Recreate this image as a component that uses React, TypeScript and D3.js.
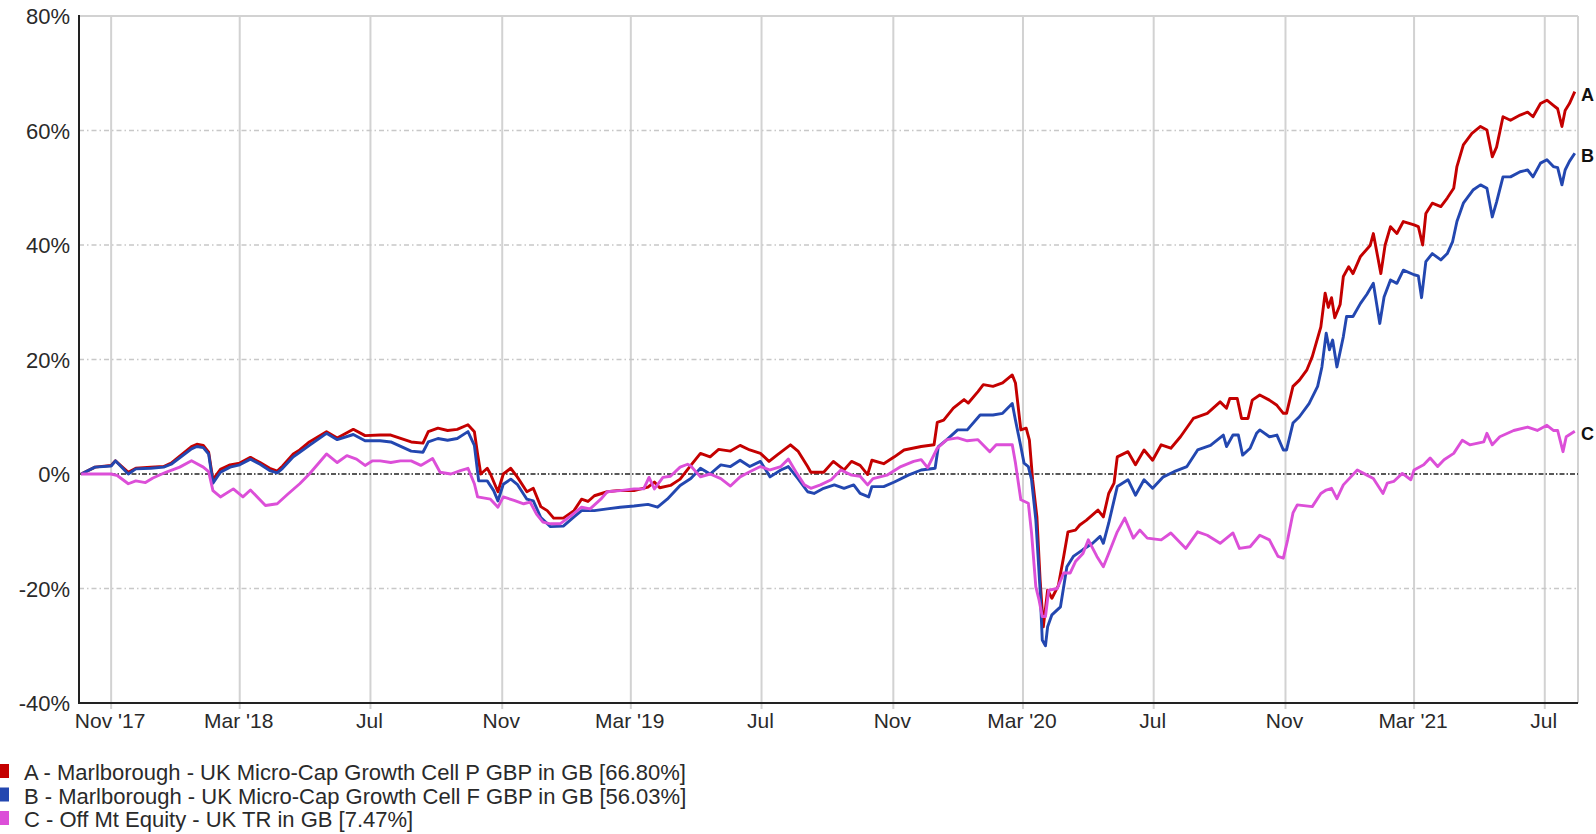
import React, { useEffect, useRef } from 'react';
import * as d3 from 'd3';

// Cumulative performance, %
const seriesA: [string, number][] = [
  ['2017-10-04', 0], ['2017-10-17', 1.2], ['2017-11-01', 1.5], ['2017-11-05', 2.3], ['2017-11-17', 0.3],
  ['2017-11-24', 1.0], ['2017-12-08', 1.2], ['2017-12-20', 1.3], ['2017-12-27', 1.9], ['2018-01-15', 4.8],
  ['2018-01-20', 5.2], ['2018-01-26', 5.0], ['2018-01-31', 3.8], ['2018-02-04', -1.0], ['2018-02-11', 0.8],
  ['2018-02-20', 1.6], ['2018-03-01', 1.9], ['2018-03-11', 2.9], ['2018-03-20', 2.0], ['2018-03-29', 1.0],
  ['2018-04-05', 0.5], ['2018-04-10', 1.4], ['2018-04-20', 3.5], ['2018-04-26', 4.2], ['2018-05-05', 5.6],
  ['2018-05-21', 7.4], ['2018-05-31', 6.3], ['2018-06-15', 7.8], ['2018-06-26', 6.7], ['2018-07-10', 6.8],
  ['2018-07-20', 6.8], ['2018-08-08', 5.6], ['2018-08-19', 5.4], ['2018-08-24', 7.4], ['2018-09-02', 8.0],
  ['2018-09-11', 7.6], ['2018-09-20', 7.8], ['2018-09-30', 8.6], ['2018-10-06', 7.4], ['2018-10-09', 3.5],
  ['2018-10-12', 0.0], ['2018-10-18', 1.0], ['2018-10-21', 0.0], ['2018-10-28', -3.1], ['2018-11-02', 0.0],
  ['2018-11-09', 1.0], ['2018-11-15', -0.5], ['2018-11-24', -3.1], ['2018-11-30', -2.5], ['2018-12-07', -5.7],
  ['2018-12-13', -6.4], ['2018-12-19', -7.7], ['2018-12-28', -7.7], ['2019-01-07', -6.4], ['2019-01-14', -4.4],
  ['2019-01-20', -4.8], ['2019-01-26', -3.8], ['2019-02-07', -3.1], ['2019-02-16', -2.9], ['2019-03-04', -2.9],
  ['2019-03-17', -2.3], ['2019-03-23', -1.4], ['2019-03-28', -2.4], ['2019-04-07', -2.0], ['2019-04-16', -0.9],
  ['2019-04-26', 1.5], ['2019-05-05', 3.6], ['2019-05-14', 3.0], ['2019-05-22', 4.3], ['2019-06-02', 4.0],
  ['2019-06-11', 5.0], ['2019-06-20', 4.2], ['2019-06-30', 3.6], ['2019-07-08', 2.2], ['2019-07-16', 3.4],
  ['2019-07-28', 5.1], ['2019-08-04', 4.0], ['2019-08-13', 1.3], ['2019-08-16', 0.3], ['2019-08-28', 0.3],
  ['2019-09-06', 2.2], ['2019-09-16', 0.7], ['2019-09-23', 2.2], ['2019-10-01', 1.5], ['2019-10-08', -0.1],
  ['2019-10-12', 2.4], ['2019-10-23', 1.8], ['2019-11-02', 3.0], ['2019-11-11', 4.2], ['2019-11-27', 4.8],
  ['2019-12-09', 5.1], ['2019-12-12', 9.0], ['2019-12-18', 9.4], ['2019-12-27', 11.5], ['2020-01-06', 13.0],
  ['2020-01-10', 12.4], ['2020-01-19', 14.4], ['2020-01-24', 15.6], ['2020-02-02', 15.3], ['2020-02-11', 15.9],
  ['2020-02-20', 17.3], ['2020-02-23', 15.9], ['2020-02-28', 7.7], ['2020-03-04', 8.0], ['2020-03-07', 5.9],
  ['2020-03-10', -1.0], ['2020-03-14', -7.5], ['2020-03-17', -18.5], ['2020-03-20', -26.7], ['2020-03-24', -20.3],
  ['2020-03-28', -21.7], ['2020-04-03', -19.5], ['2020-04-08', -14.4], ['2020-04-12', -10.1], ['2020-04-19', -9.8],
  ['2020-04-23', -8.9], ['2020-04-29', -8.1], ['2020-05-10', -6.3], ['2020-05-15', -7.5], ['2020-05-20', -3.4],
  ['2020-05-25', -1.6], ['2020-05-28', 3.0], ['2020-06-07', 3.9], ['2020-06-14', 1.6], ['2020-06-22', 4.2],
  ['2020-06-30', 2.4], ['2020-07-08', 5.1], ['2020-07-17', 4.5], ['2020-07-26', 6.5], ['2020-08-07', 9.7],
  ['2020-08-20', 10.6], ['2020-09-01', 12.6], ['2020-09-07', 11.5], ['2020-09-10', 13.2], ['2020-09-17', 13.2],
  ['2020-09-21', 9.7], ['2020-09-27', 9.7], ['2020-10-01', 12.9], ['2020-10-08', 13.8], ['2020-10-17', 12.9],
  ['2020-10-24', 12.0], ['2020-10-30', 10.6], ['2020-11-02', 10.6], ['2020-11-08', 15.3], ['2020-11-14', 16.4],
  ['2020-11-21', 18.2], ['2020-11-26', 20.5], ['2020-12-04', 25.7], ['2020-12-08', 31.6], ['2020-12-11', 29.1],
  ['2020-12-14', 30.8], ['2020-12-17', 27.3], ['2020-12-22', 29.6], ['2020-12-25', 34.5], ['2020-12-30', 36.2],
  ['2021-01-03', 35.0], ['2021-01-10', 38.0], ['2021-01-19', 39.9], ['2021-01-22', 42.0], ['2021-01-29', 35.0],
  ['2021-02-02', 40.0], ['2021-02-07', 43.2], ['2021-02-13', 42.0], ['2021-02-19', 44.1], ['2021-03-01', 43.5],
  ['2021-03-05', 43.2], ['2021-03-09', 40.0], ['2021-03-12', 45.5], ['2021-03-18', 47.3], ['2021-03-26', 46.7],
  ['2021-04-01', 48.2], ['2021-04-07', 49.9], ['2021-04-10', 53.7], ['2021-04-16', 57.5], ['2021-04-24', 59.5],
  ['2021-05-02', 60.7], ['2021-05-08', 60.1], ['2021-05-13', 55.4], ['2021-05-17', 57.1], ['2021-05-23', 62.4],
  ['2021-05-30', 61.8], ['2021-06-08', 62.7], ['2021-06-15', 63.2], ['2021-06-20', 62.4], ['2021-06-27', 64.7],
  ['2021-07-03', 65.3], ['2021-07-09', 64.4], ['2021-07-13', 63.8], ['2021-07-17', 60.7], ['2021-07-20', 63.5],
  ['2021-07-24', 64.7], ['2021-07-29', 66.8],
];

const seriesB: [string, number][] = [
  ['2017-10-04', 0], ['2017-10-17', 1.2], ['2017-11-01', 1.4], ['2017-11-05', 2.3], ['2017-11-17', 0.0],
  ['2017-11-24', 0.9], ['2017-12-08', 1.0], ['2017-12-20', 1.2], ['2017-12-27', 1.7], ['2018-01-15', 4.4],
  ['2018-01-20', 4.8], ['2018-01-26', 4.6], ['2018-01-31', 3.5], ['2018-02-04', -1.6], ['2018-02-11', 0.3],
  ['2018-02-20', 1.2], ['2018-03-01', 1.6], ['2018-03-11', 2.6], ['2018-03-20', 1.7], ['2018-03-29', 0.6],
  ['2018-04-05', 0.2], ['2018-04-10', 1.0], ['2018-04-20', 3.0], ['2018-04-26', 3.8], ['2018-05-05', 5.0],
  ['2018-05-21', 7.1], ['2018-05-31', 6.0], ['2018-06-15', 6.9], ['2018-06-26', 5.8], ['2018-07-10', 5.8],
  ['2018-07-20', 5.6], ['2018-08-08', 4.0], ['2018-08-19', 3.8], ['2018-08-24', 5.6], ['2018-09-02', 6.2],
  ['2018-09-11', 5.9], ['2018-09-20', 6.2], ['2018-09-30', 7.4], ['2018-10-06', 5.0], ['2018-10-10', -1.2],
  ['2018-10-18', -1.2], ['2018-10-24', -2.9], ['2018-10-28', -4.7], ['2018-11-02', -1.8], ['2018-11-09', -0.9],
  ['2018-11-15', -1.8], ['2018-11-24', -4.4], ['2018-11-30', -4.7], ['2018-12-07', -7.6], ['2018-12-16', -9.2],
  ['2018-12-28', -9.1], ['2019-01-07', -7.5], ['2019-01-14', -6.4], ['2019-01-26', -6.4], ['2019-02-07', -6.1],
  ['2019-02-19', -5.8], ['2019-03-04', -5.6], ['2019-03-17', -5.3], ['2019-03-26', -5.8], ['2019-04-04', -4.4],
  ['2019-04-16', -2.0], ['2019-04-26', -0.8], ['2019-05-05', 1.0], ['2019-05-14', 0.0], ['2019-05-24', 1.6],
  ['2019-06-02', 1.3], ['2019-06-11', 2.4], ['2019-06-20', 1.3], ['2019-06-30', 2.2], ['2019-07-09', -0.5],
  ['2019-07-19', 0.7], ['2019-07-26', 1.3], ['2019-08-04', -0.8], ['2019-08-13', -3.1], ['2019-08-19', -3.4],
  ['2019-08-28', -2.5], ['2019-09-07', -1.9], ['2019-09-16', -2.5], ['2019-09-25', -1.9], ['2019-10-01', -3.4],
  ['2019-10-09', -4.0], ['2019-10-12', -2.2], ['2019-10-23', -2.2], ['2019-11-02', -1.4], ['2019-11-15', -0.2],
  ['2019-11-27', 0.7], ['2019-12-10', 1.0], ['2019-12-13', 4.8], ['2019-12-21', 6.0], ['2019-12-31', 7.7],
  ['2020-01-09', 7.7], ['2020-01-21', 10.3], ['2020-02-02', 10.3], ['2020-02-11', 10.6], ['2020-02-20', 12.3],
  ['2020-02-23', 9.4], ['2020-02-28', 4.8], ['2020-03-02', 1.9], ['2020-03-06', 1.3], ['2020-03-09', -1.0],
  ['2020-03-13', -8.0], ['2020-03-17', -20.3], ['2020-03-19', -29.0], ['2020-03-22', -30.0], ['2020-03-24', -26.7],
  ['2020-03-28', -24.6], ['2020-04-05', -23.2], ['2020-04-11', -16.2], ['2020-04-17', -14.4], ['2020-04-26', -13.2],
  ['2020-05-05', -12.1], ['2020-05-12', -10.9], ['2020-05-15', -12.1], ['2020-05-20', -8.6], ['2020-05-28', -2.2],
  ['2020-06-07', -1.0], ['2020-06-14', -3.7], ['2020-06-22', -1.0], ['2020-06-30', -2.5], ['2020-07-10', -0.5],
  ['2020-07-20', 0.4], ['2020-08-01', 1.3], ['2020-08-11', 4.2], ['2020-08-23', 5.0], ['2020-09-04', 6.8],
  ['2020-09-07', 4.8], ['2020-09-13', 6.8], ['2020-09-18', 6.8], ['2020-09-22', 3.3], ['2020-09-29', 4.5],
  ['2020-10-05', 7.1], ['2020-10-08', 7.7], ['2020-10-17', 6.5], ['2020-10-24', 6.8], ['2020-10-30', 4.2],
  ['2020-11-02', 4.2], ['2020-11-08', 8.9], ['2020-11-14', 10.0], ['2020-11-23', 12.3], ['2020-12-01', 15.3],
  ['2020-12-05', 18.7], ['2020-12-09', 24.6], ['2020-12-12', 21.7], ['2020-12-15', 23.4], ['2020-12-19', 18.7],
  ['2020-12-25', 24.0], ['2020-12-28', 27.5], ['2021-01-03', 27.5], ['2021-01-10', 29.8], ['2021-01-16', 31.4],
  ['2021-01-22', 33.3], ['2021-01-28', 26.3], ['2021-02-01', 30.9], ['2021-02-07', 33.9], ['2021-02-13', 33.3],
  ['2021-02-19', 35.6], ['2021-03-01', 34.8], ['2021-03-05', 34.6], ['2021-03-08', 30.8], ['2021-03-12', 37.1],
  ['2021-03-18', 38.5], ['2021-03-26', 37.4], ['2021-04-01', 38.5], ['2021-04-06', 40.6], ['2021-04-10', 44.1],
  ['2021-04-16', 47.3], ['2021-04-25', 49.6], ['2021-05-02', 50.5], ['2021-05-08', 49.9], ['2021-05-13', 44.9],
  ['2021-05-17', 47.5], ['2021-05-23', 51.9], ['2021-05-30', 51.9], ['2021-06-08', 52.8], ['2021-06-15', 53.1],
  ['2021-06-20', 51.9], ['2021-06-27', 54.3], ['2021-07-03', 54.9], ['2021-07-09', 53.7], ['2021-07-13', 53.5],
  ['2021-07-17', 50.5], ['2021-07-20', 53.1], ['2021-07-24', 54.6], ['2021-07-29', 56.03],
];

const seriesC: [string, number][] = [
  ['2017-10-04', 0], ['2017-10-17', 0.0], ['2017-11-01', 0.0], ['2017-11-07', -0.3], ['2017-11-17', -1.7],
  ['2017-11-24', -1.2], ['2017-12-03', -1.5], ['2017-12-10', -0.7], ['2017-12-22', 0.3], ['2018-01-04', 1.2],
  ['2018-01-15', 2.3], ['2018-01-26', 1.2], ['2018-01-31', 0.4], ['2018-02-04', -2.9], ['2018-02-11', -4.0],
  ['2018-02-23', -2.6], ['2018-03-04', -4.0], ['2018-03-11', -2.8], ['2018-03-25', -5.5], ['2018-04-05', -5.2],
  ['2018-04-15', -3.5], ['2018-04-26', -1.7], ['2018-05-05', 0.0], ['2018-05-21', 3.5], ['2018-05-31', 2.0],
  ['2018-06-09', 3.2], ['2018-06-18', 2.6], ['2018-06-26', 1.5], ['2018-07-03', 2.3], ['2018-07-10', 2.3],
  ['2018-07-20', 2.0], ['2018-07-29', 2.3], ['2018-08-08', 2.3], ['2018-08-17', 1.5], ['2018-08-28', 2.7],
  ['2018-09-04', 0.3], ['2018-09-14', 0.0], ['2018-09-23', 0.6], ['2018-09-30', 1.0], ['2018-10-06', -1.7],
  ['2018-10-09', -4.0], ['2018-10-21', -4.4], ['2018-10-28', -5.8], ['2018-11-02', -4.0], ['2018-11-12', -4.6],
  ['2018-11-21', -5.2], ['2018-11-27', -4.9], ['2018-12-03', -7.0], ['2018-12-09', -8.4], ['2018-12-16', -8.7],
  ['2018-12-25', -8.7], ['2019-01-04', -7.3], ['2019-01-14', -5.8], ['2019-01-22', -6.1], ['2019-02-01', -4.4],
  ['2019-02-07', -3.1], ['2019-02-19', -2.9], ['2019-03-04', -2.6], ['2019-03-13', -2.6], ['2019-03-18', -0.6],
  ['2019-03-23', -2.6], ['2019-03-31', -0.6], ['2019-04-07', -0.4], ['2019-04-16', 1.2], ['2019-04-23', 1.7],
  ['2019-04-26', 1.4], ['2019-05-05', -0.5], ['2019-05-14', 0.0], ['2019-05-24', -0.8], ['2019-06-02', -2.1],
  ['2019-06-11', -0.5], ['2019-06-20', 0.4], ['2019-06-30', 1.3], ['2019-07-09', 0.7], ['2019-07-19', 1.3],
  ['2019-07-26', 2.6], ['2019-08-02', 0.4], ['2019-08-10', -1.9], ['2019-08-16', -2.5], ['2019-08-25', -1.9],
  ['2019-09-04', -1.0], ['2019-09-13', 0.7], ['2019-09-23', -0.2], ['2019-10-01', -0.4], ['2019-10-08', -1.9],
  ['2019-10-13', -0.8], ['2019-10-26', -0.2], ['2019-11-08', 1.3], ['2019-11-20', 2.2], ['2019-11-27', 2.5],
  ['2019-12-03', 1.1], ['2019-12-12', 4.5], ['2019-12-21', 6.0], ['2019-12-31', 6.3], ['2020-01-09', 5.8],
  ['2020-01-19', 6.0], ['2020-01-30', 3.9], ['2020-02-05', 5.1], ['2020-02-20', 5.1], ['2020-02-23', 1.9],
  ['2020-02-28', -4.5], ['2020-03-06', -5.1], ['2020-03-09', -10.3], ['2020-03-13', -19.7], ['2020-03-16', -22.0],
  ['2020-03-19', -24.9], ['2020-03-22', -24.9], ['2020-03-25', -20.3], ['2020-04-02', -20.0], ['2020-04-08', -17.3],
  ['2020-04-14', -17.3], ['2020-04-19', -15.3], ['2020-04-26', -13.9], ['2020-05-01', -11.5], ['2020-05-09', -14.4],
  ['2020-05-15', -16.2], ['2020-05-20', -13.9], ['2020-05-28', -10.1], ['2020-06-04', -7.7], ['2020-06-12', -11.2],
  ['2020-06-18', -9.8], ['2020-06-25', -11.2], ['2020-07-08', -11.5], ['2020-07-17', -10.3], ['2020-07-31', -13.0],
  ['2020-08-11', -10.1], ['2020-08-20', -10.7], ['2020-09-01', -12.1], ['2020-09-13', -10.3], ['2020-09-19', -13.0],
  ['2020-09-29', -12.7], ['2020-10-08', -10.7], ['2020-10-17', -11.5], ['2020-10-25', -14.4], ['2020-10-30', -14.7],
  ['2020-11-03', -11.5], ['2020-11-08', -6.8], ['2020-11-12', -5.4], ['2020-11-26', -5.7], ['2020-12-04', -3.4],
  ['2020-12-09', -2.8], ['2020-12-14', -2.5], ['2020-12-19', -4.3], ['2020-12-25', -1.9], ['2021-01-07', 0.7],
  ['2021-01-16', -0.2], ['2021-01-22', -0.8], ['2021-01-31', -3.4], ['2021-02-04', -1.6], ['2021-02-10', -1.3],
  ['2021-02-18', 0.1], ['2021-02-26', -1.0], ['2021-03-01', 0.7], ['2021-03-10', 1.6], ['2021-03-16', 2.8],
  ['2021-03-23', 1.3], ['2021-03-29', 2.5], ['2021-04-07', 3.6], ['2021-04-15', 5.9], ['2021-04-22', 5.1],
  ['2021-05-05', 5.6], ['2021-05-08', 7.1], ['2021-05-13', 5.1], ['2021-05-20', 6.5], ['2021-06-02', 7.6],
  ['2021-06-15', 8.2], ['2021-06-24', 7.6], ['2021-07-03', 8.5], ['2021-07-09', 7.6], ['2021-07-13', 7.6],
  ['2021-07-18', 3.9], ['2021-07-21', 6.5], ['2021-07-29', 7.47],
];

const seriesKeys = ['A', 'B', 'C'];
const seriesNames = [
  'A - Marlborough - UK Micro-Cap Growth Cell P GBP in GB [66.80%]',
  'B - Marlborough - UK Micro-Cap Growth Cell F GBP in GB [56.03%]',
  'C - Off Mt Equity - UK TR in GB [7.47%]',
];
const seriesColors = ['#c40000', '#2347b0', '#dc4fd8'];

const xTicks: [string, string][] = [
  ['2017-11-01', "Nov '17"], ['2018-03-01', "Mar '18"], ['2018-07-01', 'Jul'], ['2018-11-01', 'Nov'],
  ['2019-03-01', "Mar '19"], ['2019-07-01', 'Jul'], ['2019-11-01', 'Nov'], ['2020-03-01', "Mar '20"],
  ['2020-07-01', 'Jul'], ['2020-11-01', 'Nov'], ['2021-03-01', "Mar '21"], ['2021-07-01', 'Jul'],
];
const yTicks = [-40, -20, 0, 20, 40, 60, 80];

const WIDTH = 1596;
const HEIGHT = 834;
const FONT = '"Liberation Sans", Arial, sans-serif';

export default function App() {
  const svgRef = useRef<SVGSVGElement>(null);

  useEffect(() => {
    if (!svgRef.current) return;
    const svg = d3.select(svgRef.current);
    svg.selectAll('*').remove();

    const parse = d3.timeParse('%Y-%m-%d');
    const left = 79;
    const right = 1578;
    const top = 16;
    const bottom = 703;

    const x = d3
      .scaleTime()
      .domain([parse('2017-10-02') as Date, parse('2021-08-01') as Date])
      .range([left, right]);
    const y = d3.scaleLinear().domain([-40, 80]).range([bottom, top]);

    // Vertical grid
    svg
      .append('g')
      .selectAll('line')
      .data(xTicks)
      .enter()
      .append('line')
      .attr('x1', (d) => x(parse(d[0]) as Date))
      .attr('x2', (d) => x(parse(d[0]) as Date))
      .attr('y1', top)
      .attr('y2', bottom + 6)
      .attr('stroke', '#d2d2d2')
      .attr('stroke-width', 2);

    // Horizontal grid
    svg
      .append('g')
      .selectAll('line')
      .data(yTicks.filter((v) => v !== 0 && v !== -40 && v !== 80))
      .enter()
      .append('line')
      .attr('x1', left)
      .attr('x2', right)
      .attr('y1', (d) => y(d))
      .attr('y2', (d) => y(d))
      .attr('stroke', '#c8c8c8')
      .attr('stroke-width', 1.5)
      .attr('stroke-dasharray', '5,3,1.5,3');

    // Frame
    svg.append('line').attr('x1', left).attr('x2', right).attr('y1', top).attr('y2', top)
      .attr('stroke', '#d2d2d2').attr('stroke-width', 2);
    svg.append('line').attr('x1', right).attr('x2', right).attr('y1', top).attr('y2', bottom)
      .attr('stroke', '#d2d2d2').attr('stroke-width', 2);

    // Zero line
    svg.append('line')
      .attr('x1', left).attr('x2', right).attr('y1', y(0)).attr('y2', y(0))
      .attr('stroke', '#222').attr('stroke-width', 1.5).attr('stroke-dasharray', '5,2,1.5,2');

    // Lines
    const line = d3
      .line<[string, number]>()
      .x((d) => x(parse(d[0]) as Date))
      .y((d) => y(d[1]));

    const allSeries = [seriesA, seriesB, seriesC];
    allSeries.forEach((s, i) => {
      svg
        .append('path')
        .datum(s)
        .attr('d', line)
        .attr('fill', 'none')
        .attr('stroke', seriesColors[i])
        .attr('stroke-width', 2.9)
        .attr('stroke-linejoin', 'round');
    });

    // Axes
    svg.append('line').attr('x1', left).attr('x2', left).attr('y1', top - 1).attr('y2', bottom + 1)
      .attr('stroke', '#222').attr('stroke-width', 2);
    svg.append('line').attr('x1', left).attr('x2', right).attr('y1', bottom).attr('y2', bottom)
      .attr('stroke', '#222').attr('stroke-width', 2);

    // Y labels
    svg
      .append('g')
      .selectAll('text')
      .data(yTicks)
      .enter()
      .append('text')
      .attr('x', 70)
      .attr('y', (d) => y(d) + 8)
      .attr('text-anchor', 'end')
      .attr('font-family', FONT)
      .attr('font-size', 22)
      .attr('fill', '#2a2a2a')
      .text((d) => `${d}%`);

    // X labels
    svg
      .append('g')
      .selectAll('text')
      .data(xTicks)
      .enter()
      .append('text')
      .attr('x', (d) => x(parse(d[0]) as Date) - 1)
      .attr('y', 728)
      .attr('text-anchor', 'middle')
      .attr('font-family', FONT)
      .attr('font-size', 21)
      .attr('fill', '#2a2a2a')
      .text((d) => d[1]);

    // End labels
    allSeries.forEach((s, i) => {
      const last = s[s.length - 1];
      svg
        .append('text')
        .attr('x', 1581)
        .attr('y', y(last[1]) + 9)
        .attr('font-family', FONT)
        .attr('font-size', 18)
        .attr('font-weight', 'bold')
        .attr('fill', '#111')
        .text(seriesKeys[i]);
    });

    // Legend
    const legend = svg.append('g');
    seriesNames.forEach((name, i) => {
      const baseline = 780 + i * 23.5;
      legend
        .append('rect')
        .attr('x', -5)
        .attr('y', baseline - 16)
        .attr('width', 14)
        .attr('height', 14)
        .attr('fill', seriesColors[i]);
      legend
        .append('text')
        .attr('x', 24)
        .attr('y', baseline)
        .attr('font-family', FONT)
        .attr('font-size', 22)
        .attr('fill', '#2a2a2a')
        .text(name);
    });
  }, []);

  return (
    <div style={{ position: 'absolute', left: 0, top: 0, background: '#fff' }}>
      <svg ref={svgRef} width={WIDTH} height={HEIGHT} style={{ display: 'block' }} />
    </div>
  );
}
